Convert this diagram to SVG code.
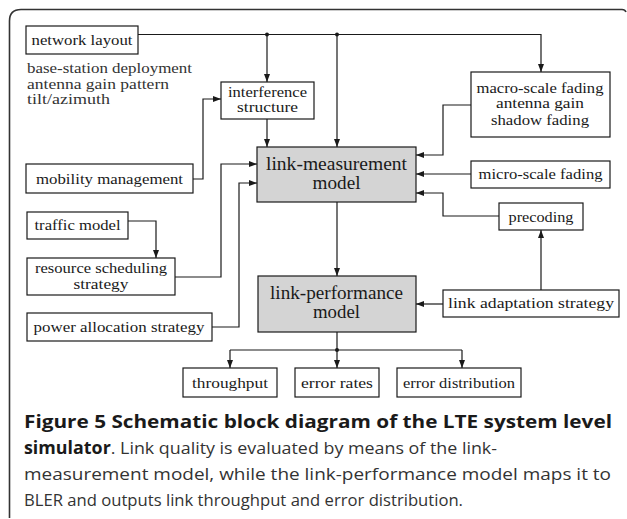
<svg xmlns="http://www.w3.org/2000/svg" width="627" height="519" viewBox="0 0 627 519">
<defs>
<marker id="ah" viewBox="0 0 8 6" refX="8" refY="3" markerWidth="8" markerHeight="6" markerUnits="userSpaceOnUse" orient="auto"><path d="M0,0 L8,3 L0,6 z" fill="#1a1a1a"/></marker>
<style>
.box{fill:#fff;stroke:#1a1a1a;stroke-width:1.2}
.gbox{fill:#d4d4d4;stroke:#1a1a1a;stroke-width:1.2}
.t{font-family:"Liberation Serif","DejaVu Serif",serif;font-size:15px;fill:#1a1a1a;text-anchor:middle}
.tl{font-family:"Liberation Serif","DejaVu Serif",serif;font-size:15px;fill:#333}
.big{font-size:18px}
.sm{font-size:14px}
.c{fill:none;stroke:#1a1a1a;stroke-width:1.2}
.a{marker-end:url(#ah)}
.cap{font-family:"Open Sans","Liberation Sans",sans-serif;font-size:17px;fill:#333}
.b{font-weight:bold;fill:#1a1a1a}
</style>
</defs>
<rect width="627" height="519" fill="#fff"/>
<path d="M9.5,518 V21 Q9.5,9.5 21,9.5 H622 Q625,9.5 626,12" fill="none" stroke="#333" stroke-width="1.6"/>

<g id="connectors">
<path class="c a" d="M138,34.5 H541 V72"/>
<path class="c a" d="M267,34.5 V82"/>
<path class="c a" d="M337,34.5 V147"/>
<circle cx="267" cy="34.5" r="2" fill="#1a1a1a"/>
<circle cx="337" cy="34.5" r="2" fill="#1a1a1a"/>
<path class="c a" d="M267,119 V147"/>
<path class="c a" d="M193,179 H203 V99 H221"/>
<path class="c a" d="M128,221 H156 V258"/>
<path class="c a" d="M175,277 H221 V164 H257"/>
<path class="c a" d="M212,327 H239 V183 H257"/>
<path class="c a" d="M471,105 H443 V155 H416"/>
<path class="c a" d="M471,174 H416"/>
<path class="c a" d="M499,216 H443 V193 H416"/>
<path class="c a" d="M541,290 V230"/>
<path class="c a" d="M443,304 H416"/>
<path class="c a" d="M337,202 V276"/>
<path class="c a" d="M337,332 V368"/>
<path class="c" d="M230,350 H462"/>
<path class="c a" d="M230,350 V368"/>
<path class="c a" d="M462,350 V368"/>
<circle cx="337" cy="350" r="2" fill="#1a1a1a"/>
</g>

<g id="network-layout">
<rect class="box" x="26" y="26" width="112" height="28"/>
<text class="t" x="82" y="45" textLength="101" lengthAdjust="spacingAndGlyphs">network layout</text>
</g>
<g id="network-notes">
<text class="tl" x="27" y="73" textLength="165" lengthAdjust="spacingAndGlyphs">base-station deployment</text>
<text class="tl" x="27" y="89" textLength="142" lengthAdjust="spacingAndGlyphs">antenna gain pattern</text>
<text class="tl" x="27" y="104" textLength="83" lengthAdjust="spacingAndGlyphs">tilt/azimuth</text>
</g>
<g id="interference-structure">
<rect class="box" x="221" y="82" width="93" height="37"/>
<text class="t" x="267.5" y="97" textLength="79" lengthAdjust="spacingAndGlyphs">interference</text>
<text class="t" x="267.5" y="112" textLength="61" lengthAdjust="spacingAndGlyphs">structure</text>
</g>
<g id="mobility-management">
<rect class="box" x="26" y="164" width="167" height="29"/>
<text class="t" x="109.5" y="184" textLength="147" lengthAdjust="spacingAndGlyphs">mobility management</text>
</g>
<g id="traffic-model">
<rect class="box" x="27" y="212" width="101" height="27"/>
<text class="t" x="77.5" y="230" textLength="86" lengthAdjust="spacingAndGlyphs">traffic model</text>
</g>
<g id="resource-scheduling">
<rect class="box" x="27" y="258" width="148" height="37"/>
<text class="t" x="101" y="273" textLength="132" lengthAdjust="spacingAndGlyphs">resource scheduling</text>
<text class="t" x="101" y="289" textLength="55" lengthAdjust="spacingAndGlyphs">strategy</text>
</g>
<g id="power-allocation">
<rect class="box" x="27" y="313" width="185" height="28"/>
<text class="t" x="119" y="332" textLength="171" lengthAdjust="spacingAndGlyphs">power allocation strategy</text>
</g>
<g id="link-measurement-model">
<rect class="gbox" x="257" y="147" width="159" height="55"/>
<text class="t big" x="336.5" y="170" textLength="141" lengthAdjust="spacingAndGlyphs">link-measurement</text>
<text class="t big" x="336.5" y="189" textLength="48" lengthAdjust="spacingAndGlyphs">model</text>
</g>
<g id="macro-scale-fading">
<rect class="box" x="471" y="72" width="139" height="65"/>
<text class="t" x="540" y="93" textLength="127" lengthAdjust="spacingAndGlyphs">macro-scale fading</text>
<text class="t" x="540" y="108" textLength="88" lengthAdjust="spacingAndGlyphs">antenna gain</text>
<text class="t" x="540" y="125" textLength="98" lengthAdjust="spacingAndGlyphs">shadow fading</text>
</g>
<g id="micro-scale-fading">
<rect class="box" x="471" y="161" width="139" height="27"/>
<text class="t" x="540.5" y="179" textLength="124" lengthAdjust="spacingAndGlyphs">micro-scale fading</text>
</g>
<g id="precoding">
<rect class="box" x="499" y="203" width="84" height="27"/>
<text class="t" x="541" y="222" textLength="65" lengthAdjust="spacingAndGlyphs">precoding</text>
</g>
<g id="link-adaptation-strategy">
<rect class="box" x="443" y="290" width="176" height="27"/>
<text class="t" x="531" y="308" textLength="166" lengthAdjust="spacingAndGlyphs">link adaptation strategy</text>
</g>
<g id="link-performance-model">
<rect class="gbox" x="258" y="276" width="158" height="56"/>
<text class="t big" x="336.5" y="299" textLength="133" lengthAdjust="spacingAndGlyphs">link-performance</text>
<text class="t big" x="336.5" y="318" textLength="47" lengthAdjust="spacingAndGlyphs">model</text>
</g>
<g id="throughput">
<rect class="box" x="183" y="368" width="94" height="29"/>
<text class="t sm" x="230" y="388" textLength="76" lengthAdjust="spacingAndGlyphs">throughput</text>
</g>
<g id="error-rates">
<rect class="box" x="295" y="368" width="84" height="29"/>
<text class="t sm" x="337" y="388" textLength="72" lengthAdjust="spacingAndGlyphs">error rates</text>
</g>
<g id="error-distribution">
<rect class="box" x="397" y="368" width="124" height="29"/>
<text class="t sm" x="459" y="388" textLength="112" lengthAdjust="spacingAndGlyphs">error distribution</text>
</g>

<g id="caption">
<text class="cap b" x="24" y="428" textLength="588" lengthAdjust="spacingAndGlyphs">Figure 5 Schematic block diagram of the LTE system level</text>
<text class="cap" x="24" y="454" textLength="473" lengthAdjust="spacingAndGlyphs"><tspan class="b">simulator</tspan>. Link quality is evaluated by means of the link-</text>
<text class="cap" x="24" y="480" textLength="587" lengthAdjust="spacingAndGlyphs">measurement model, while the link-performance model maps it to</text>
<text class="cap" x="24" y="506" textLength="439" lengthAdjust="spacingAndGlyphs">BLER and outputs link throughput and error distribution.</text>
</g>
</svg>
